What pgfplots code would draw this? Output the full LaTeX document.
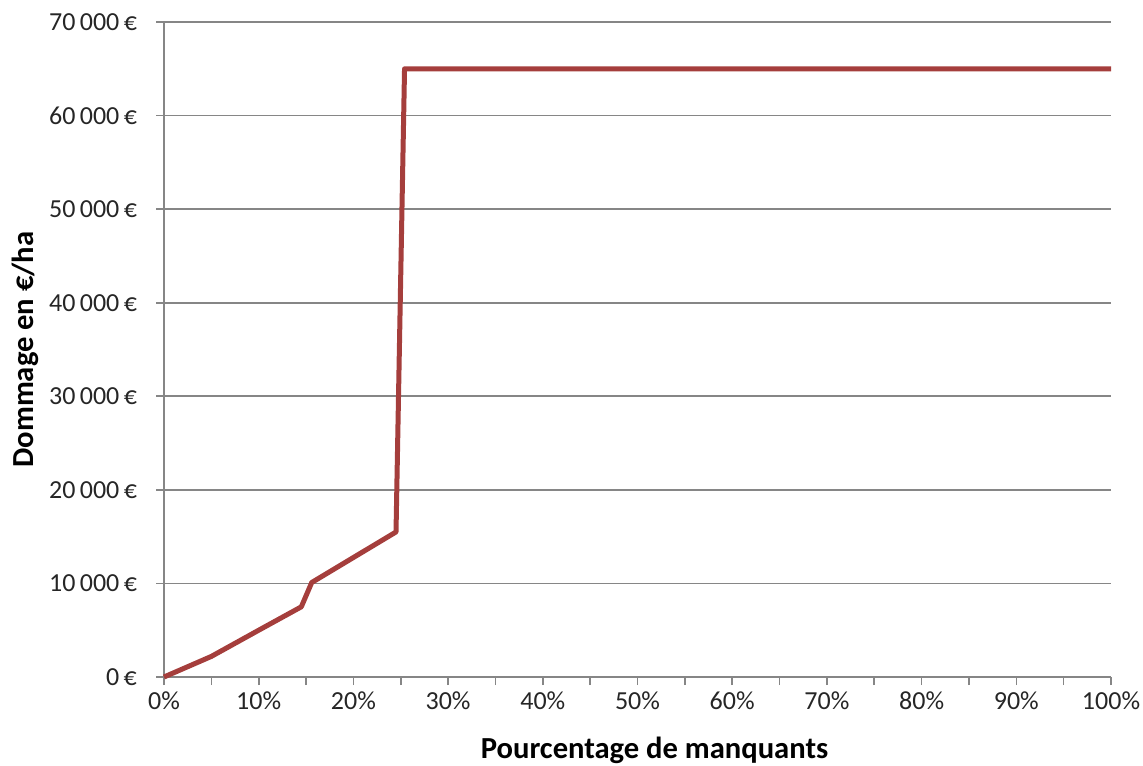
\documentclass[border=0pt]{standalone}
\usepackage{pgfplots}
\pgfplotsset{compat=1.18}
\usepackage{fontspec}
\setmainfont{Carlito}
\definecolor{linered}{RGB}{165,62,60}
\definecolor{gridgray}{RGB}{134,134,134}
\begin{document}
\begin{tikzpicture}
\path[use as bounding box] (-82pt,-44pt) rectangle (489.5pt,338.5pt);
\begin{axis}[
  at={(0,0)}, anchor=south west,
  scale only axis,
  width=473.5pt, height=327.5pt,
  xmin=0, xmax=100, ymin=0, ymax=70000,
  scaled y ticks=false,
  axis lines=left,
  axis line style={-, gridgray, line width=0.8pt},
  xtick={0,10,...,100},
  xticklabels={0\%,10\%,20\%,30\%,40\%,50\%,60\%,70\%,80\%,90\%,100\%},
  minor xtick={5,15,...,95},
  ytick={0,10000,...,70000},
  yticklabels={0\,€,10\,000\,€,20\,000\,€,30\,000\,€,40\,000\,€,50\,000\,€,60\,000\,€,70\,000\,€},
  tick align=outside,
  major tick length=4pt, minor tick length=4pt,
  tick style={gridgray, line width=0.8pt},
  ymajorgrids,
  major grid style={gridgray, line width=0.8pt},
  tick label style={font=\fontsize{13}{15}\selectfont, text=black!85},
  yticklabel style={xshift=-6pt},
  xticklabel style={yshift=0pt},
  xlabel={\textbf{Pourcentage de manquants}},
  ylabel={\textbf{Dommage en €/ha}},
  label style={font=\fontsize{15.3}{17}\selectfont},
  xlabel style={at={(axis description cs:0.518,-0.1115)}, anchor=center},
  ylabel style={at={(axis description cs:-0.1468,0.5)}, anchor=center},
  clip=false,
]
\addplot[linered, line width=2.5pt, line join=round] coordinates {
  (0,0) (5,2200) (10,5000) (14.5,7500) (15.6,10100)
  (24.5,15500) (25.4,65000) (100,65000)
};
\end{axis}
\end{tikzpicture}
\end{document}
